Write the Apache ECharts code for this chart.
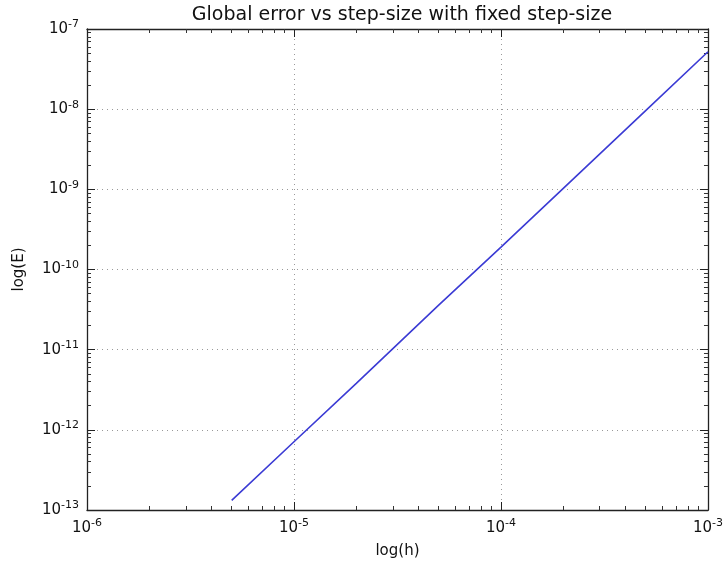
<!DOCTYPE html>
<html>
<head>
<meta charset="utf-8">
<script src="https://cdn.jsdelivr.net/npm/echarts@6/dist/echarts.min.js"></script>
<style>
  html, body { margin: 0; padding: 0; background: #fff; }
  #chart { width: 726px; height: 565px; }
</style>
</head>
<body>
<div id="chart"></div>
<script>
// step sizes h and global error E
var stepSizes = [5e-6, 1e-5, 2e-5, 5e-5, 1e-4, 2e-4, 5e-4, 1e-3];
var globalErrors = [1.32e-13, 7.1e-13, 3.8e-12, 3.6e-11, 1.9e-10, 1.03e-9, 9.6e-9, 5.2e-8];

var titleText = 'Global error vs step-size with fixed step-size';
var xName = 'log(h)';
var yName = 'log(E)';

var font = 'DejaVu Sans';

function powLabel(value) {
    var exp = Math.round(Math.log10(value));
    return '{b|10}{s|' + exp + '}';
}

var labelRich = {
    b: { fontSize: 15, fontFamily: font, color: '#111' },
    s: { fontSize: 11, fontFamily: font, color: '#111', padding: [0, 0, 9, 0] }
};

function logAxis(pos, min, max, showLabel) {
    return {
        type: 'log',
        logBase: 10,
        position: pos,
        min: min,
        max: max,
        axisLine: { show: true, onZero: false, lineStyle: { color: '#222', width: 1.3 } },
        axisTick: { show: true, inside: true, length: 8, lineStyle: { color: '#222' } },
        minorTick: { show: true, splitNumber: 9, length: 4, lineStyle: { color: '#333' } },
        splitLine: {
            show: showLabel,
            lineStyle: { color: '#555', type: [1, 4], width: 1, opacity: 0.6 }
        },
        axisLabel: {
            show: showLabel,
            formatter: powLabel,
            rich: labelRich,
            margin: 8
        }
    };
}

var myChart = echarts.init(document.getElementById('chart'));

var xBottom = logAxis('bottom', 1e-6, 1e-3, true);
var xTop = logAxis('top', 1e-6, 1e-3, false);
var yLeft = logAxis('left', 1e-13, 1e-7, true);
var yRight = logAxis('right', 1e-13, 1e-7, false);

xBottom.name = xName;
xBottom.nameLocation = 'middle';
xBottom.nameGap = 34;
xBottom.nameTextStyle = { fontSize: 15, fontFamily: font, color: '#111' };

yLeft.name = yName;
yLeft.nameLocation = 'middle';
yLeft.nameGap = 60;
yLeft.nameTextStyle = { fontSize: 15, fontFamily: font, color: '#111' };

var option = {
    animation: false,
    backgroundColor: '#fff',
    title: {
        text: titleText,
        left: 397,
        textAlign: 'center',
        top: 1,
        textStyle: { fontSize: 19, fontWeight: 'normal', fontFamily: font, color: '#111' }
    },
    grid: {
        left: 87,
        right: 18,
        top: 29,
        bottom: 55
    },
    xAxis: [xBottom, xTop],
    yAxis: [yLeft, yRight],
    series: [{
        type: 'line',
        xAxisIndex: 0,
        yAxisIndex: 0,
        showSymbol: false,
        data: stepSizes.map(function(h, i) { return [h, globalErrors[i]]; }),
        lineStyle: { color: '#3b3bd4', width: 1.6 }
    }]
};

myChart.setOption(option);
</script>
</body>
</html>
